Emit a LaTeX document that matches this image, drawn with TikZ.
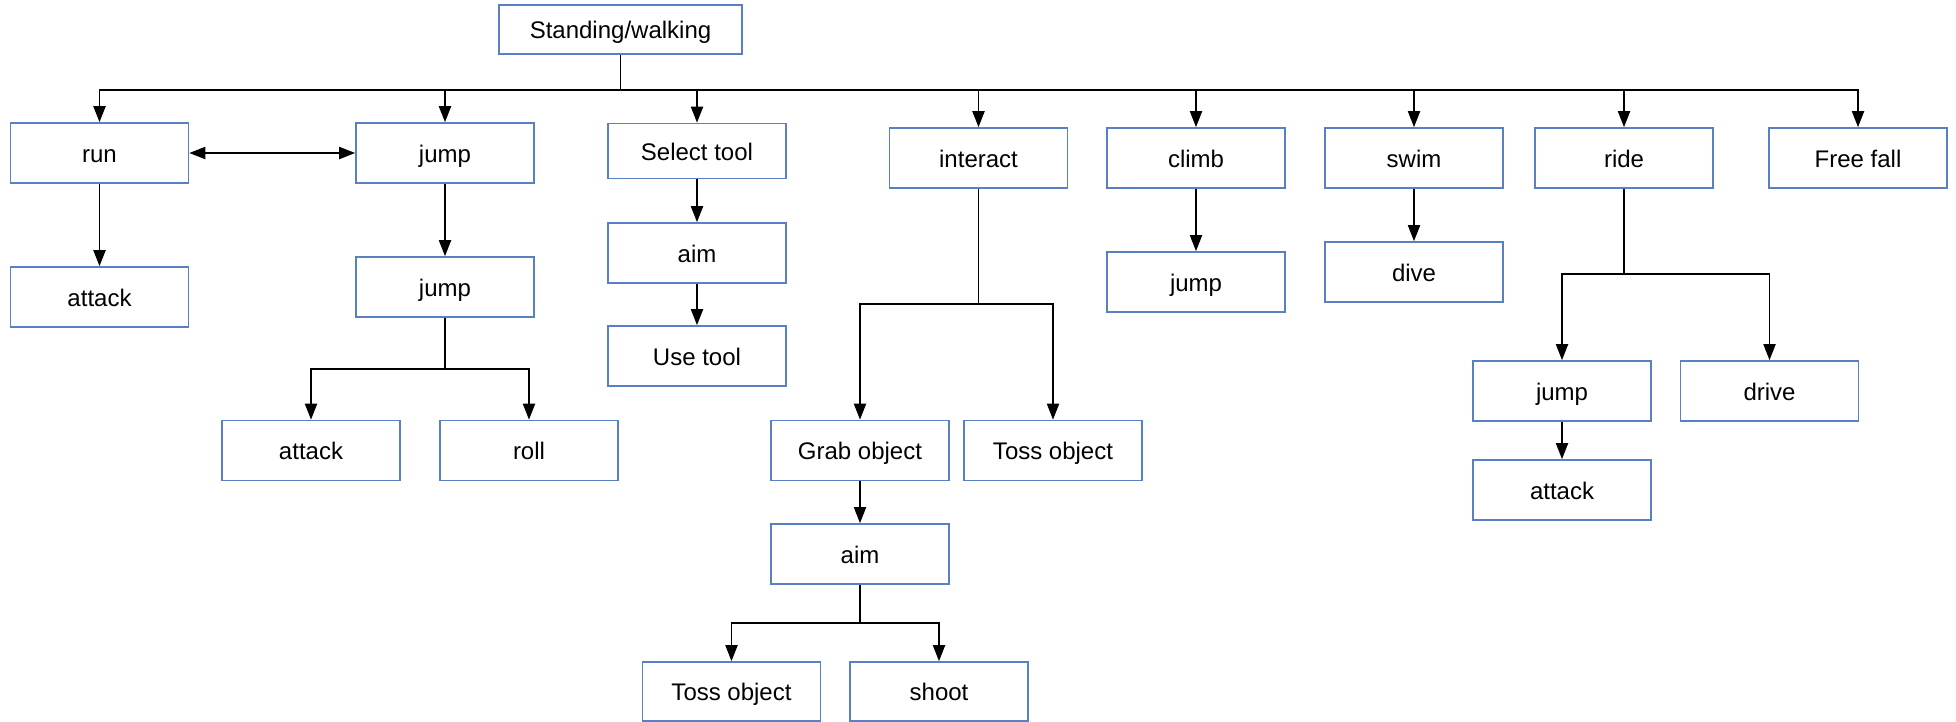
\documentclass[tikz,border=0pt]{standalone}
\usepackage{fontspec}
\setmainfont{Liberation Sans}
\usetikzlibrary{arrows.meta}
\definecolor{boxblue}{RGB}{88,128,194}
\tikzset{
  box/.style={draw=boxblue, line width=1.6pt, rectangle, minimum width=178pt, minimum height=60pt, inner sep=0pt, text height=20pt, text depth=2pt, font=\fontsize{24}{28}\selectfont, text=black},
  arr/.style={draw=black, line width=1.9pt, -{Triangle[length=16pt,width=12pt]}},
  ln/.style={draw=black, line width=1.9pt},
}
\begin{document}
\begin{tikzpicture}[x=1pt,y=-1pt]
\useasboundingbox (0,0) rectangle (1956,721);
% top
\node[box, minimum width=243pt, minimum height=49pt] (sw) at (620.5,29.5) {Standing/walking};
% level 1
\node[box] (run) at (99.5,153) {run};
\node[box] (jumpA) at (445,153) {jump};
\node[box, minimum height=55pt] (sel) at (697,151) {Select tool};
\node[box] (interact) at (978.5,158) {interact};
\node[box] (climb) at (1196,158) {climb};
\node[box] (swim) at (1414,158) {swim};
\node[box] (ride) at (1624,158) {ride};
\node[box] (fall) at (1858,158) {Free fall};
% level 2+
\node[box] (attackA) at (99.5,297) {attack};
\node[box] (jumpB) at (445,287) {jump};
\node[box] (attackB) at (311,450.5) {attack};
\node[box] (roll) at (529,450.5) {roll};
\node[box] (aimA) at (697,253) {aim};
\node[box] (usetool) at (697,356) {Use tool};
\node[box] (grab) at (860,450.5) {Grab object};
\node[box] (tossA) at (1053,450.5) {Toss object};
\node[box] (aimB) at (860,554) {aim};
\node[box, minimum height=59pt] (tossB) at (731.5,691.5) {Toss object};
\node[box, minimum height=59pt] (shoot) at (939,691.5) {shoot};
\node[box] (jumpC) at (1196,282) {jump};
\node[box] (dive) at (1414,272) {dive};
\node[box] (jumpD) at (1562,391) {jump};
\node[box] (drive) at (1769.5,391) {drive};
\node[box] (attackC) at (1562,490) {attack};
% bus coordinates
\coordinate (bus) at (620.5,90);
\coordinate (jbus) at (445,369);
\coordinate (ibus) at (978.5,304);
\coordinate (abus) at (860,623);
\coordinate (rbus) at (1624,274);
% top bus
\draw[ln] (sw.south) -- (bus);
\foreach \n in {run,jumpA,sel,interact,climb,swim,ride,fall}
  \draw[arr] (bus) -| (\n.north);
% run <-> jump
\draw[line width=1.9pt, {Triangle[length=16pt,width=12pt]}-{Triangle[length=16pt,width=12pt]}] (run.east) -- (jumpA.west);
\draw[arr] (run.south) -- (attackA.north);
\draw[arr] (jumpA.south) -- (jumpB.north);
\draw[ln] (jumpB.south) -- (jbus);
\draw[arr] (jbus) -| (attackB.north);
\draw[arr] (jbus) -| (roll.north);
\draw[arr] (sel.south) -- (aimA.north);
\draw[arr] (aimA.south) -- (usetool.north);
\draw[ln] (interact.south) -- (ibus);
\draw[arr] (ibus) -| (grab.north);
\draw[arr] (ibus) -| (tossA.north);
\draw[arr] (grab.south) -- (aimB.north);
\draw[ln] (aimB.south) -- (abus);
\draw[arr] (abus) -| (tossB.north);
\draw[arr] (abus) -| (shoot.north);
\draw[arr] (climb.south) -- (jumpC.north);
\draw[arr] (swim.south) -- (dive.north);
\draw[ln] (ride.south) -- (rbus);
\draw[arr] (rbus) -| (jumpD.north);
\draw[arr] (rbus) -| (drive.north);
\draw[arr] (jumpD.south) -- (attackC.north);
\end{tikzpicture}
\end{document}
